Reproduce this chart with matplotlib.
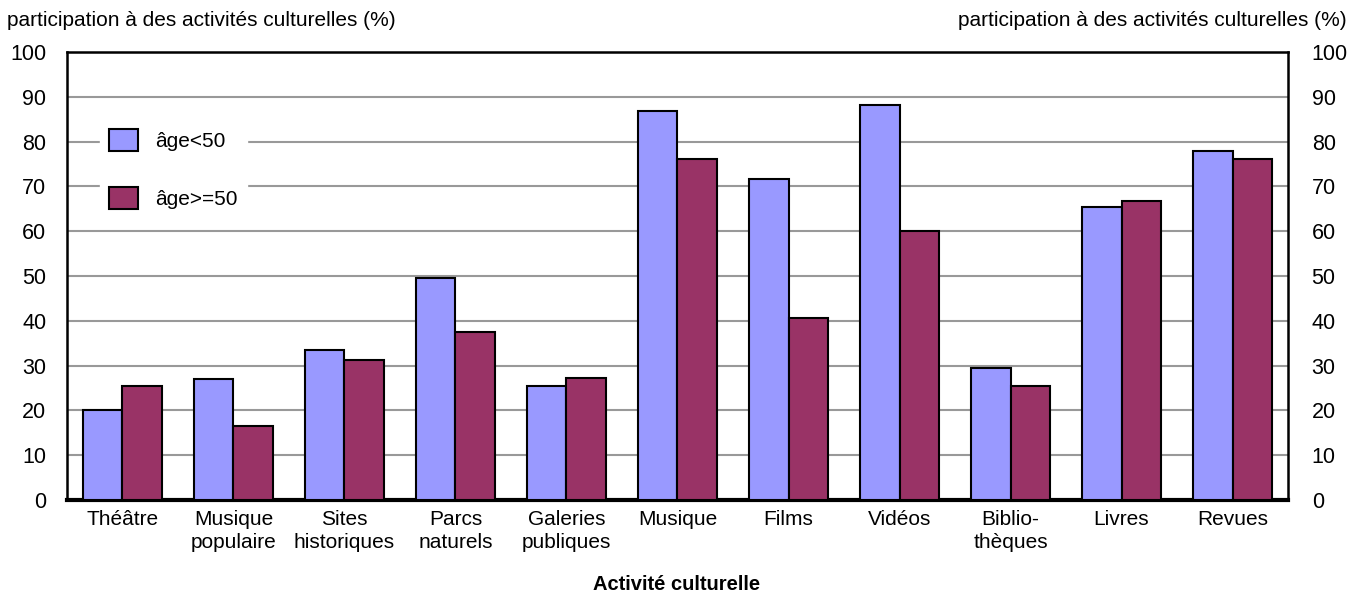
import numpy as np
import matplotlib.pyplot as plt

plt.rcParams['font.family'] = ['Liberation Sans', 'DejaVu Sans']

# Données
categories = ['Théâtre', 'Musique\npopulaire', 'Sites\nhistoriques', 'Parcs\nnaturels',
              'Galeries\npubliques', 'Musique', 'Films', 'Vidéos', 'Biblio-\nthèques',
              'Livres', 'Revues']
age_moins_50 = [20, 27, 33.5, 49.5, 25.5, 86.8, 71.6, 88.2, 29.5, 65.4, 77.9]
age_plus_50 = [25.5, 16.5, 31.2, 37.5, 27.2, 76.1, 40.6, 60, 25.5, 66.7, 76.1]
ticks = list(range(0, 101, 10))

fig = plt.figure(figsize=(13.64, 5.95), dpi=100)
ax = fig.add_axes([0.0491, 0.1597, 0.8952, 0.7529])

x = np.arange(len(categories))
w = 0.356
ax.bar(x - w / 2, age_moins_50, w, color='#9999FF', edgecolor='black', linewidth=1.5,
       label='âge<50', zorder=3)
ax.bar(x + w / 2, age_plus_50, w, color='#993366', edgecolor='black', linewidth=1.5,
       label='âge>=50', zorder=3)

ax.set_xlim(-0.5, len(categories) - 0.5)
ax.set_ylim(0, 100)
ax.set_yticks(ticks)
ax.yaxis.grid(True, color='#999999', linewidth=1.5, zorder=0)
ax.set_axisbelow(True)
ax.set_xticks(x)
ax.set_xticklabels(categories, fontsize=15, linespacing=1.3)
ax.tick_params(axis='x', length=0, pad=7)
ax.tick_params(axis='y', length=0, pad=15, labelsize=15.5)
for s in ['left', 'top', 'right']:
    ax.spines[s].set_linewidth(1.8)
ax.spines['bottom'].set_linewidth(3)

ax2 = ax.twinx()
ax2.set_ylim(0, 100)
ax2.set_yticks(ticks)
ax2.tick_params(axis='y', length=0, pad=17, labelsize=15.5)
for s in ax2.spines.values():
    s.set_visible(False)

fig.text(0.496, 0.017, 'Activité culturelle', fontsize=14.5, fontweight='bold',
         ha='center', va='center')
fig.text(0.005, 0.965, 'participation à des activités culturelles (%)', fontsize=15,
         ha='left', va='center')
fig.text(0.987, 0.965, 'participation à des activités culturelles (%)', fontsize=15,
         ha='right', va='center')

leg = ax.legend(loc='upper left', bbox_to_anchor=(0.027, 0.85), frameon=True, fontsize=15,
                handlelength=1.4, handleheight=1.25, labelspacing=1.75, handletextpad=0.8,
                borderpad=0.45, borderaxespad=0, fancybox=False)
leg.get_frame().set_edgecolor('white')
leg.get_frame().set_facecolor('white')
leg.get_frame().set_alpha(1)

fig.savefig('out.png', dpi=100)
